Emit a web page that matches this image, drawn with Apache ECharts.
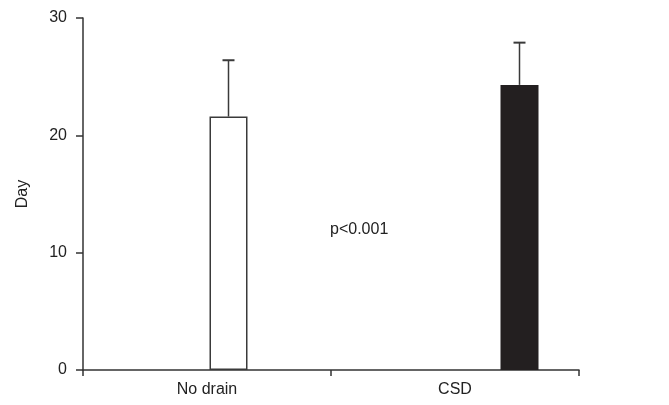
<!DOCTYPE html>
<html>
<head>
<meta charset="utf-8">
<script src="https://cdn.jsdelivr.net/npm/echarts@6/dist/echarts.min.js"></script>
<style>html,body{margin:0;padding:0;background:#fff;}#c{width:669px;height:405px;}</style>
</head>
<body>
<div id="c"></div>
<script>
const categories = ['No drain', 'CSD'];
const means = [21.6, 24.3];
const upperErr = [26.4, 27.9];
const yTicks = [0, 10, 20, 30];
const annotation = 'p<0.001';

const chart = echarts.init(document.getElementById('c'), null, {renderer: 'canvas'});
const FONT = 'Liberation Sans, Arial, sans-serif';
const AX = '#333333';

chart.setOption({
  animation: false,
  backgroundColor: '#ffffff',
  grid: [
    {left: 83, right: 90, top: 18, bottom: 35},
    {left: 83, right: 4, top: 18, bottom: 35}
  ],
  xAxis: [
    {
      type: 'category', gridIndex: 0, data: categories, boundaryGap: true,
      axisLine: {show: true, lineStyle: {color: AX, width: 1.5}},
      axisTick: {show: true, length: 6, inside: false, alignWithLabel: false, lineStyle: {color: AX, width: 1.5}},
      axisLabel: {fontSize: 16, color: '#222', fontFamily: FONT, margin: 12}
    },
    {
      type: 'category', gridIndex: 1, data: categories, boundaryGap: true, show: false
    }
  ],
  yAxis: [
    {
      type: 'value', gridIndex: 0, min: yTicks[0], max: yTicks[yTicks.length - 1], interval: 10,
      name: 'Day', nameLocation: 'middle', nameGap: 52,
      nameTextStyle: {fontSize: 16, color: '#222', fontFamily: FONT},
      axisLine: {show: true, lineStyle: {color: AX, width: 1.5}},
      axisTick: {show: true, length: 7, lineStyle: {color: AX, width: 1.5}},
      axisLabel: {fontSize: 16, color: '#222', fontFamily: FONT, margin: 16},
      splitLine: {show: false}
    },
    {
      type: 'value', gridIndex: 1, min: yTicks[0], max: yTicks[yTicks.length - 1], interval: 10, show: false,
      splitLine: {show: false}
    }
  ],
  series: [
    {
      type: 'bar', xAxisIndex: 1, yAxisIndex: 1, barWidth: 38,
      data: means.map((v, i) => ({
        value: v,
        itemStyle: i === 0
          ? {color: '#ffffff', borderColor: '#3a3a3a', borderWidth: 1.5}
          : {color: '#231f20', borderColor: '#231f20', borderWidth: 0}
      })),
      z: 2
    },
    {
      type: 'custom', xAxisIndex: 1, yAxisIndex: 1, z: 3,
      data: means.map((v, i) => [i, v, upperErr[i]]),
      renderItem: function (params, api) {
        const idx = api.value(0);
        const base = api.coord([idx, api.value(1)]);
        const top = api.coord([idx, api.value(2)]);
        const capHalf = 6;
        const style = {stroke: '#3a3a3a', lineWidth: 1.5};
        return {
          type: 'group',
          children: [
            {type: 'line', shape: {x1: base[0], y1: base[1], x2: top[0], y2: top[1]}, style: style},
            {type: 'line', shape: {x1: top[0] - capHalf, y1: top[1], x2: top[0] + capHalf, y2: top[1]}, style: {stroke: '#3a3a3a', lineWidth: 2}}
          ]
        };
      }
    }
  ],
  graphic: [
    {
      type: 'text', left: 330, top: 222,
      style: {text: annotation, fontSize: 16, fill: '#222', fontFamily: FONT}
    }
  ]
});
</script>
</body>
</html>
